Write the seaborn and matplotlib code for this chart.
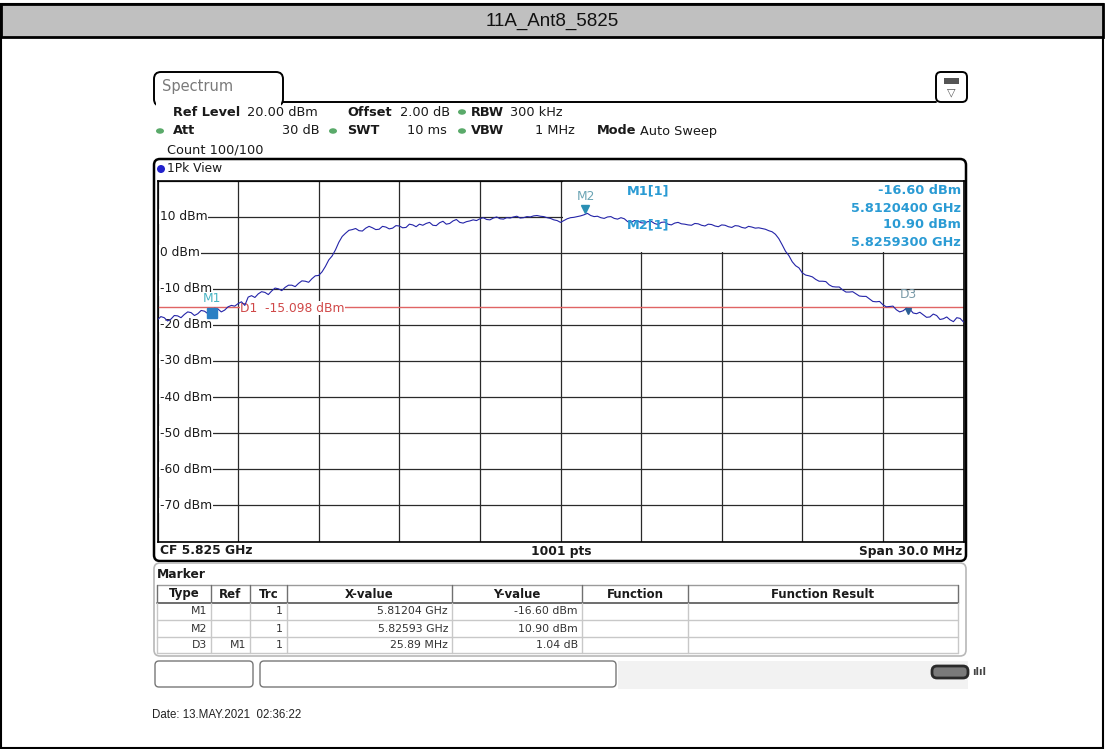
import numpy as np
import matplotlib
matplotlib.use('Agg')
import matplotlib.pyplot as plt
from matplotlib.patches import Rectangle, FancyBboxPatch, Ellipse
import seaborn as sns

W, H = 1105, 749

# trace level in dBm, one reading every 0.125 MHz over the 30 MHz span
level_dbm = [
    -18.6, -17.7, -18.0, -18.9, -18.4, -17.4, -17.5, -18.0, -17.1, -16.4,
    -16.6, -17.4, -16.9, -16.0, -16.2, -16.9, -16.6, -15.4, -15.6, -16.4,
    -15.9, -15.0, -14.6, -14.8, -14.1, -13.6, -14.6, -12.3, -11.9, -12.4,
    -11.4, -10.8, -11.0, -11.6, -10.6, -9.8, -10.0, -10.5, -9.6, -9.0,
    -9.0, -9.4, -8.5, -7.8, -7.9, -8.2, -7.2, -6.4, -6.3, -5.3,
    -3.8, -2.0, -0.9, 0.8, 2.9, 4.5, 5.4, 6.2, 6.4, 6.7,
    6.1, 6.0, 6.8, 7.3, 6.9, 6.4, 6.5, 7.3, 7.1, 6.6,
    6.8, 7.5, 7.4, 6.9, 7.0, 7.9, 7.7, 7.2, 7.9, 7.6,
    8.1, 8.4, 7.6, 7.5, 8.3, 8.7, 7.9, 8.1, 8.8, 9.2,
    8.4, 8.2, 8.6, 8.8, 9.1, 8.9, 9.4, 9.7, 9.2, 9.1,
    9.6, 9.9, 9.4, 9.3, 9.7, 9.6, 9.9, 10.1, 9.6, 9.7,
    10.0, 9.9, 10.2, 10.3, 10.1, 10.0, 9.7, 9.5, 9.1, 8.9,
    8.4, 8.9, 9.4, 9.7, 9.8, 10.0, 10.2, 10.5, 10.9, 10.3,
    10.0, 10.1, 9.7, 9.5, 9.9, 10.0, 9.5, 9.3, 9.7, 9.4,
    8.6, 8.4, 8.9, 8.8, 8.3, 8.2, 8.6, 8.7, 8.1, 7.8,
    8.4, 8.5, 7.9, 7.7, 8.2, 8.4, 8.0, 7.9, 7.7, 7.6,
    8.1, 8.0, 7.6, 7.4, 7.9, 7.8, 7.4, 7.2, 7.7, 7.6,
    7.2, 7.0, 7.5, 7.4, 7.0, 6.8, 7.3, 7.1, 6.8, 6.9,
    6.7, 6.5, 6.1, 5.8, 5.1, 3.9, 2.2, 0.4, -0.8, -2.5,
    -3.6, -4.2, -5.6, -6.2, -6.4, -6.7, -7.4, -7.9, -7.9, -8.0,
    -8.9, -9.4, -9.5, -9.5, -10.3, -10.9, -10.9, -10.8, -11.4, -12.0,
    -12.1, -12.1, -12.8, -13.5, -13.6, -13.5, -14.4, -15.0, -14.9, -14.8,
    -15.8, -16.4, -16.1, -15.4, -15.6, -16.7, -16.9, -16.5, -17.2, -17.9,
    -17.8, -17.0, -17.4, -18.5, -18.3, -17.8, -18.6, -19.1, -18.0, -18.2,
    -19.2,
]
start_ghz = 5.810
stop_ghz = 5.840
freq_ghz = np.linspace(start_ghz, stop_ghz, len(level_dbm))

ref_level = 20
y_bottom = -80
y_labels = [10, 0, -10, -20, -30, -40, -50, -60, -70]
d1_level = -15.098

marker_names = ['M1', 'M2', 'D3']
marker_freq = [5.81204, 5.82593, 5.83793]
marker_level = [-16.60, 10.90, -15.56]

info_lines = ['-16.60 dBm', '5.8120400 GHz', '10.90 dBm', '5.8259300 GHz']

table_cols = ['Type', 'Ref', 'Trc', 'X-value', 'Y-value', 'Function', 'Function Result']
table_type = ['M1', 'M2', 'D3']
table_ref = ['', '', 'M1']
table_trc = ['1', '1', '1']
table_x = ['5.81204 GHz', '5.82593 GHz', '25.89 MHz']
table_y = ['-16.60 dBm', '10.90 dBm', '1.04 dB']

sns.set_style('white')
plt.rcParams['font.family'] = ['DejaVu Sans']

fig = plt.figure(figsize=(W / 100, H / 100), dpi=100)

# overlay in pixel coordinates for the frame and the instrument panels
ov = fig.add_axes([0, 0, 1, 1])
ov.set_xlim(0, W)
ov.set_ylim(H, 0)
ov.axis('off')
ov.set_zorder(0)

PL, PR, PT, PB = 157.5, 963.5, 180.5, 541.5
ax = fig.add_axes([PL / W, 1 - PB / H, (PR - PL) / W, (PB - PT) / H])
ax.set_zorder(1)

blue = '#2a9bd4'
txt = '#1a1a1a'
green = '#5aaa6a'

# outer document frame and title band
ov.add_patch(Rectangle((1, 4), W - 3, H - 5, fc='none', ec='black', lw=1.5))
ov.add_patch(Rectangle((1, 4), W - 3, 33, fc='#c0c0c0', ec='black', lw=2))
ov.text(W / 2, 21, '11A_Ant8_5825', ha='center', va='center', fontsize=13.5,
        family='Liberation Sans', color='#111111')

# Spectrum tab and top line
ov.add_patch(FancyBboxPatch((154, 72), 129, 34, boxstyle='round,pad=0,rounding_size=7',
                            fc='white', ec='black', lw=1.4))
ov.add_patch(Rectangle((156, 100), 125, 8, fc='white', ec='none'))
ov.plot([283, 936], [102, 102], color='black', lw=1.4)
ov.text(162, 87, 'Spectrum', va='center', fontsize=10.5, color='#7a7a7a')

# menu icon box
ov.add_patch(FancyBboxPatch((936, 72), 31, 30, boxstyle='round,pad=0,rounding_size=5',
                            fc='white', ec='black', lw=1.4))
ov.add_patch(Rectangle((944, 78), 15, 6, fc='#555555', ec='none'))
ov.text(951.5, 92, '\u25bd', ha='center', va='center', fontsize=8, color='#555555')


def t(x, y, s, **kw):
    kw.setdefault('fontsize', 9.3)
    kw.setdefault('color', txt)
    ov.text(x, y, s, va='center', **kw)


def dot(x, y):
    ov.add_patch(Ellipse((x, y), 8, 5.5, fc=green, ec='none'))


t(173, 112, 'Ref Level', fontweight='bold')
t(247, 112, '20.00 dBm')
t(347, 112, 'Offset', fontweight='bold')
t(400, 112, '2.00 dB')
dot(462, 112)
t(471, 112, 'RBW', fontweight='bold')
t(510, 112, '300 kHz')

dot(160, 131)
t(173, 131, 'Att', fontweight='bold')
t(320, 131, '30 dB', ha='right')
dot(333, 131)
t(347, 131, 'SWT', fontweight='bold')
t(447, 131, '10 ms', ha='right')
dot(462, 131)
t(471, 131, 'VBW', fontweight='bold')
t(575, 131, '1 MHz', ha='right')
t(597, 131, 'Mode', fontweight='bold')
t(640, 131, 'Auto Sweep')
t(167, 150, 'Count 100/100')

# diagram window
ov.add_patch(FancyBboxPatch((154, 159), 812, 402, boxstyle='round,pad=0,rounding_size=6',
                            fc='none', ec='black', lw=1.8))
ov.add_patch(Ellipse((161, 169), 8, 8, fc='#2222cc', ec='none'))
t(167, 169, '1Pk View', fontsize=8.8)
t(160, 551, 'CF 5.825 GHz', fontsize=8.8, fontweight='bold')
t(561, 551, '1001 pts', fontsize=8.8, fontweight='bold', ha='center')
t(962, 551, 'Span 30.0 MHz', fontsize=8.8, fontweight='bold', ha='right')

# marker table panel
ov.add_patch(FancyBboxPatch((154, 563), 812, 93, boxstyle='round,pad=0,rounding_size=6',
                            fc='none', ec='#b8b8b8', lw=1.2))
t(157, 574, 'Marker', fontsize=8.8, fontweight='bold')
col_edges = [157, 211, 250, 287, 452, 582, 688, 958]
row_lines = [603, 620, 637, 653]
ov.plot([157, 958], [585, 585], color='#9a9a9a', lw=1)
ov.plot([157, 958], [603, 603], color='#555555', lw=1.2)
for yl in row_lines[1:]:
    ov.plot([157, 958], [yl, yl], color='#c8c8c8', lw=1)
for xc in col_edges:
    ov.plot([xc, xc], [585, 603], color='#707070', lw=1)
    ov.plot([xc, xc], [603, 653], color='#c8c8c8', lw=1)
for i, name in enumerate(table_cols):
    cx = (col_edges[i] + col_edges[i + 1]) / 2
    t(cx, 594, name, fontsize=8.5, fontweight='bold', ha='center')
for r in range(len(table_type)):
    yr = (row_lines[r] + row_lines[r + 1]) / 2
    t(207, yr, table_type[r], fontsize=7.8, ha='right', color='#333333')
    t(246, yr, table_ref[r], fontsize=7.8, ha='right', color='#333333')
    t(283, yr, table_trc[r], fontsize=7.8, ha='right', color='#333333')
    t(448, yr, table_x[r], fontsize=7.8, ha='right', color='#333333')
    t(578, yr, table_y[r], fontsize=7.8, ha='right', color='#333333')

# soft keys and status bar
ov.add_patch(FancyBboxPatch((155, 661), 98, 26, boxstyle='round,pad=0,rounding_size=4',
                            fc='white', ec='#777777', lw=1))
ov.add_patch(FancyBboxPatch((260, 661), 356, 26, boxstyle='round,pad=0,rounding_size=4',
                            fc='white', ec='#777777', lw=1))
ov.add_patch(Rectangle((618, 661), 350, 28, fc='#f2f2f2', ec='none'))
ov.add_patch(FancyBboxPatch((932, 666), 36, 12, boxstyle='round,pad=0,rounding_size=5',
                            fc='#7a7a7a', ec='#2a2a2a', lw=2))
t(972, 672, 'ılıl', fontsize=7, color='#444444', fontweight='bold')
t(152, 715, 'Date: 13.MAY.2021  02:36:22', fontsize=8.3, family='Liberation Sans',
  color='#222222')

# the trace diagram
sns.lineplot(x=freq_ghz, y=level_dbm, ax=ax, color='#2424a8', linewidth=0.8, zorder=3)
ax.set_xlim(start_ghz, stop_ghz)
ax.set_ylim(y_bottom, ref_level)
ax.set_xticks(np.linspace(start_ghz, stop_ghz, 11))
ax.set_yticks(np.arange(y_bottom, ref_level + 1, 10))
ax.grid(True, color='#2a2a2a', lw=0.9)
ax.set_axisbelow(True)
ax.tick_params(length=0, labelleft=False, labelbottom=False)
ax.set_xlabel('')
ax.set_ylabel('')
for sp in ax.spines.values():
    sp.set_color('black')
    sp.set_linewidth(1.2)

px = ov.transData

# marker readout area hides the grid in the upper right corner
ax.add_patch(Rectangle((563, 181), PR - 563, 71, transform=px, fc='white', ec='none', zorder=1))
ax.text(627, 191, 'M1[1]', transform=px, color=blue, fontsize=9.3, fontweight='bold',
        va='center', zorder=5)
ax.text(627, 225, 'M2[1]', transform=px, color=blue, fontsize=9.3, fontweight='bold',
        va='center', zorder=5)
for i, line in enumerate(info_lines):
    ax.text(961, 191 + i * 17, line, transform=px, color=blue, fontsize=9.3,
            fontweight='bold', ha='right', va='center', zorder=5)

for v in y_labels:
    ax.text(160, PT + (ref_level - v) / (ref_level - y_bottom) * (PB - PT), f'{v} dBm',
            transform=px, fontsize=8.8, va='center', ha='left', color=txt, zorder=2,
            bbox=dict(fc='white', ec='none', pad=0.6))

ax.axhline(d1_level, color='#e06464', lw=1.0, zorder=2.5)
ax.text(240, 308, 'D1  -15.098 dBm', transform=px, fontsize=8.8, color='#d04848',
        va='center', zorder=2.6, bbox=dict(fc='white', ec='none', pad=0.3))

ax.plot(marker_freq[0], marker_level[0], marker='s', ms=6.5, color='#2a7fc4', zorder=4)
ax.plot(marker_freq[1], marker_level[1] + 1.2, marker='v', ms=6, color='#2a8fb4', zorder=4)
ax.plot(marker_freq[2], marker_level[2] - 0.5, marker='v', ms=5, color='#2a5f94', zorder=4)
label_cols = ['#48b4c4', '#6aa4b4', '#7a9aa8']
label_up = [10, 12, 10]
for name, f, lv, c, up in zip(marker_names, marker_freq, marker_level, label_cols, label_up):
    ax.annotate(name, (f, lv), xytext=(0, up), textcoords='offset points', ha='center',
                va='center', fontsize=8.8, color=c, zorder=5)

fig.savefig('out.png', dpi=100)
